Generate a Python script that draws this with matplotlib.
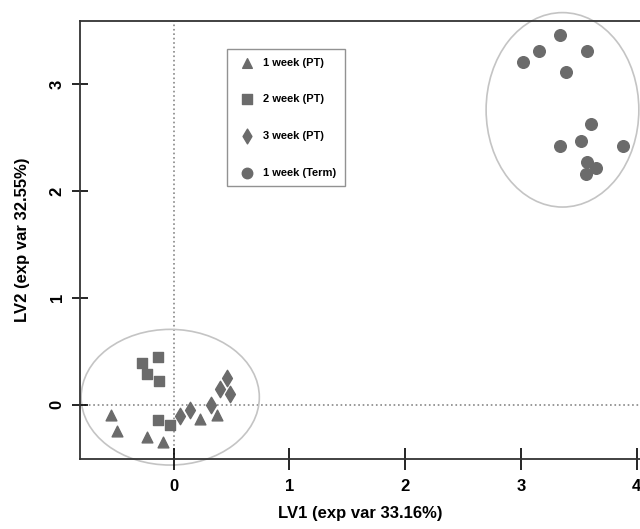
import numpy as np
import matplotlib.pyplot as plt
from matplotlib.patches import Ellipse

plt.rcParams['font.family'] = ['Liberation Sans', 'DejaVu Sans']

# scores
wk1_x = [-0.54, -0.49, -0.23, -0.09, 0.23, 0.37]
wk1_y = [-0.10, -0.25, -0.30, -0.35, -0.13, -0.10]
wk2_x = [-0.27, -0.14, -0.23, -0.13, -0.14, -0.03]
wk2_y = [0.39, 0.45, 0.29, 0.22, -0.14, -0.19]
wk3_x = [0.05, 0.14, 0.32, 0.40, 0.46, 0.49]
wk3_y = [-0.11, -0.05, 0.0, 0.15, 0.25, 0.10]
term_x = [3.34, 3.16, 3.02, 3.57, 3.39, 3.61, 3.52, 3.34, 3.88, 3.57, 3.65, 3.56]
term_y = [3.46, 3.31, 3.21, 3.31, 3.11, 2.63, 2.47, 2.42, 2.42, 2.27, 2.22, 2.16]

labels = ['1 week (PT)', '2 week (PT)', '3 week (PT)', '1 week (Term)']
grey = '#6b6b6b'

fig = plt.figure(figsize=(6.4, 5.29), dpi=100)
ax = fig.add_axes([0.125, 0.132, 0.875, 0.828])

ax.axvline(0, color='#888888', ls=':', lw=1.2, zorder=1)
ax.axhline(0, color='#888888', ls=':', lw=1.2, zorder=1)

ax.add_patch(Ellipse((-0.03, 0.07), 1.54, 1.27, fill=False, ec='#c4c4c4', lw=1.2, clip_on=False))
ax.add_patch(Ellipse((3.36, 2.76), 1.32, 1.82, fill=False, ec='#c4c4c4', lw=1.2, clip_on=False))

ax.scatter(wk1_x, wk1_y, marker='^', s=60, color=grey, label=labels[0], zorder=3)
ax.scatter(wk2_x, wk2_y, marker='s', s=60, color=grey, label=labels[1], zorder=3)
ax.scatter(wk3_x, wk3_y, marker='d', s=70, color=grey, label=labels[2], zorder=3)
ax.scatter(term_x, term_y, marker='o', s=70, color=grey, label=labels[3], zorder=3)

ax.set_xlim(-0.81, 4.03)
ax.set_ylim(-0.51, 3.59)
ax.set_xticks([0, 1, 2, 3, 4])
ax.set_yticks([0, 1, 2, 3])
ax.spines['right'].set_visible(False)
for s in ['left', 'top', 'bottom']:
    ax.spines[s].set_linewidth(1.3)
    ax.spines[s].set_color('#333333')

ax.tick_params(axis='x', direction='inout', length=16, width=1.2, labelsize=12, pad=6)
ax.tick_params(axis='y', direction='inout', length=12, width=1.2, labelsize=12, pad=5)
for t in ax.get_yticklabels():
    t.set_rotation(90)
    t.set_va('center')
for t in ax.get_xticklabels() + ax.get_yticklabels():
    t.set_fontweight('bold')

ax.set_xlabel('LV1 (exp var 33.16%)', fontsize=12, fontweight='bold', labelpad=9)
ax.set_ylabel('LV2 (exp var 32.55%)', fontsize=12, fontweight='bold', labelpad=14)

leg = ax.legend(loc='upper left', bbox_to_anchor=(0.253, 0.95), frameon=True,
                fancybox=False, labelspacing=2.4, handletextpad=0.4,
                borderpad=0.8, prop={'weight': 'bold', 'size': 8}, markerscale=0.9)
leg.get_frame().set_edgecolor('#777777')
leg.get_frame().set_linewidth(1.0)

fig.savefig('out.png', dpi=100)
